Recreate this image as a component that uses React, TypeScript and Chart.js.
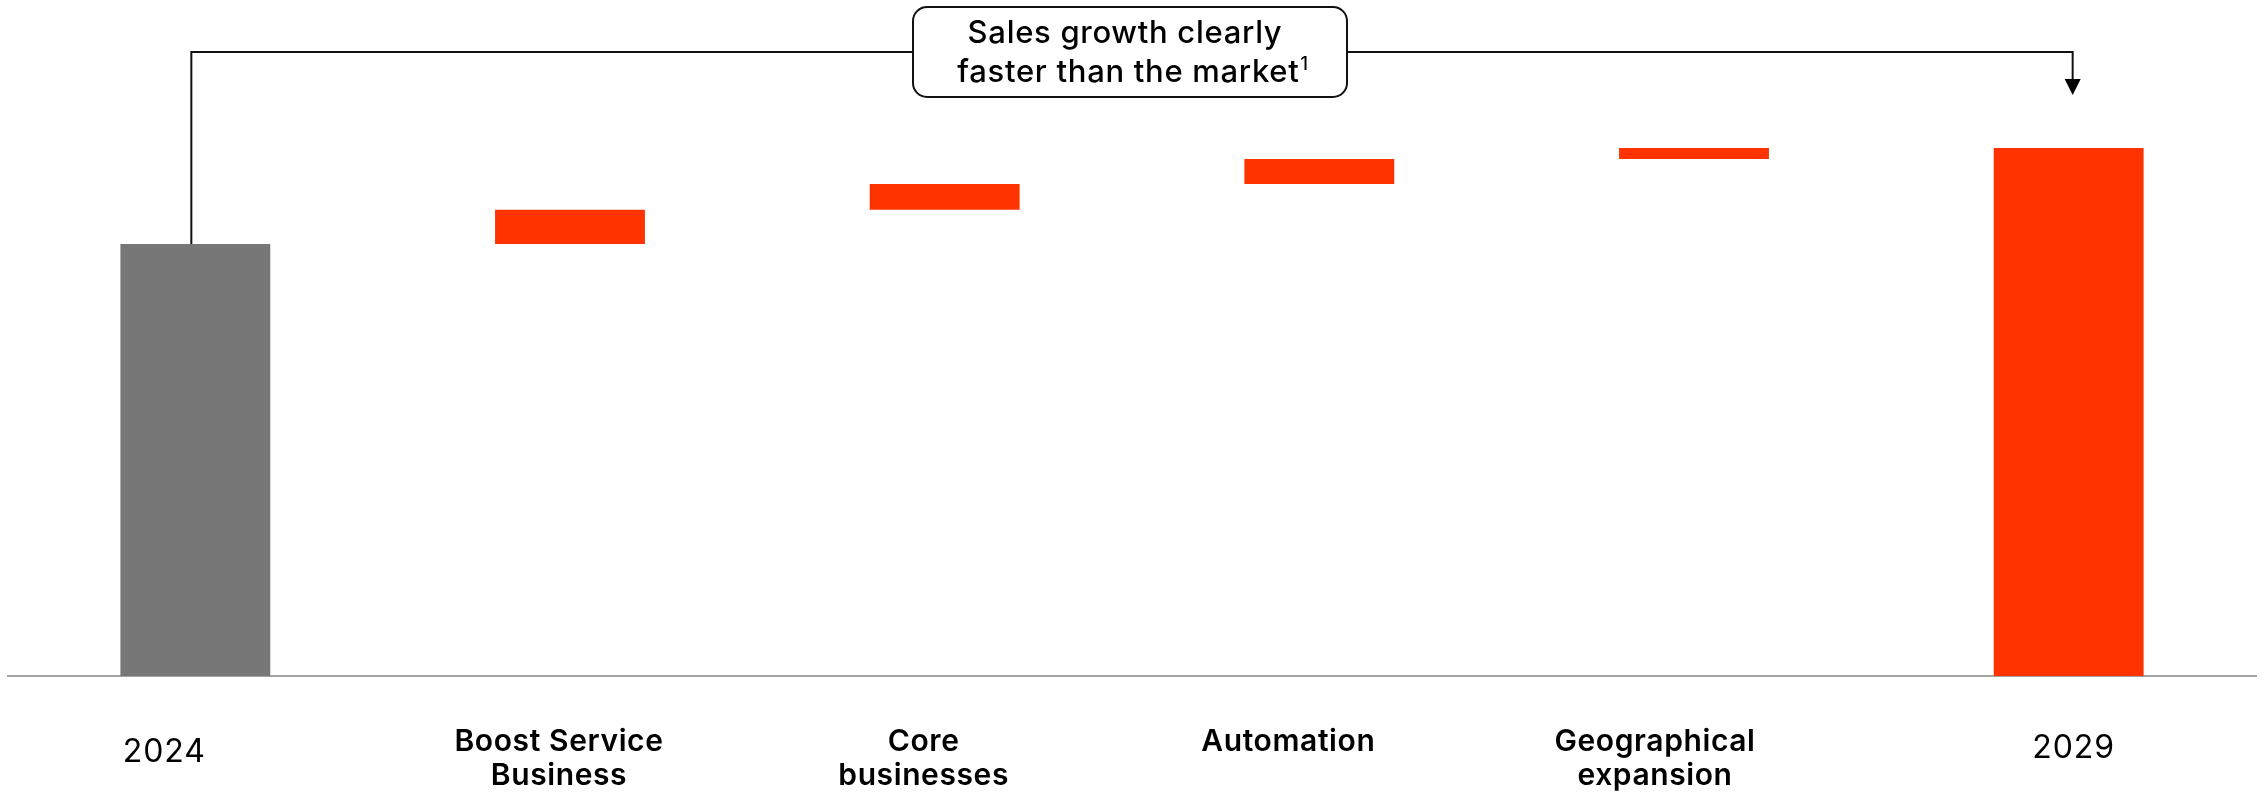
import React, { useEffect, useRef } from "react";
import { Chart, registerables } from "chart.js";

Chart.register(...registerables);

// ---- data ----
const categories: string[][] = [
  ["2024"],
  ["Boost Service", "Business"],
  ["Core", "businesses"],
  ["Automation"],
  ["Geographical", "expansion"],
  ["2029"],
];
const startValue = 100; // 2024 sales (index)
const increments = [7.9, 6.0, 5.8, 2.5]; // growth drivers
const endValue = 122.2; // 2029 sales (index)
const calloutLines = ["Sales growth clearly", "faster than the market"];
const calloutFootnote = "1";

const GREY = "#777777";
const ORANGE = "#FF3300";
const FONT = "Inter, 'Noto Sans', sans-serif";

function buildBars(): [number, number][] {
  const bars: [number, number][] = [[0, startValue]];
  let running = startValue;
  for (const inc of increments) {
    bars.push([running, running + inc]);
    running += inc;
  }
  bars.push([0, endValue]);
  return bars;
}

// label styling (horizontal nudge, first-line centre y)
const labelShift = [-31, -11, -21, -31, -39, 5];
const labelY = [752, 742, 742, 742, 742, 748];

const labelPlugin = {
  id: "categoryLabels",
  afterDraw(chart: any) {
    const { ctx, scales } = chart;
    const x = scales.x;
    ctx.save();
    ctx.fillStyle = "#000";
    ctx.textAlign = "center";
    ctx.textBaseline = "middle";
    categories.forEach((lines, i) => {
      const isYear = i === 0 || i === categories.length - 1;
      ctx.font = isYear ? `400 32px ${FONT}` : `600 30px ${FONT}`;
      (ctx as any).letterSpacing = isYear ? "1px" : "0.6px";
      const cx = x.getPixelForValue(i) + labelShift[i];
      lines.forEach((line, j) => {
        ctx.fillText(line, cx, labelY[i] + j * 34);
      });
    });
    ctx.restore();
  },
};

const bracketPlugin = {
  id: "bracket",
  afterDraw(chart: any) {
    const { ctx, scales } = chart;
    const x = scales.x;
    const y = scales.y;
    const leftX = x.getPixelForValue(0) - 4;
    const rightX = x.getPixelForValue(categories.length - 1) + 4;
    const barTop = y.getPixelForValue(startValue);
    const lineY = 52;
    const boxL = 913;
    const boxR = 1347;
    const boxT = 7;
    const boxB = 97;
    const tipY = 95;
    const headH = 16;
    const headW = 8;

    ctx.save();
    ctx.strokeStyle = "#111";
    ctx.lineWidth = 2;
    ctx.beginPath();
    ctx.moveTo(leftX, barTop);
    ctx.lineTo(leftX, lineY);
    ctx.lineTo(boxL, lineY);
    ctx.moveTo(boxR, lineY);
    ctx.lineTo(rightX, lineY);
    ctx.lineTo(rightX, tipY - headH + 1);
    ctx.stroke();

    ctx.fillStyle = "#000";
    ctx.beginPath();
    ctx.moveTo(rightX - headW, tipY - headH);
    ctx.lineTo(rightX + headW, tipY - headH);
    ctx.lineTo(rightX, tipY);
    ctx.closePath();
    ctx.fill();

    // rounded box
    ctx.fillStyle = "#fff";
    ctx.beginPath();
    (ctx as any).roundRect(boxL, boxT, boxR - boxL, boxB - boxT, 14);
    ctx.fill();
    ctx.stroke();

    // text
    ctx.fillStyle = "#000";
    ctx.textBaseline = "alphabetic";
    (ctx as any).letterSpacing = "0.7px";
    ctx.font = `500 31px ${FONT}`;
    ctx.textAlign = "center";
    ctx.fillText(calloutLines[0], 1125, 43);
    const w = ctx.measureText(calloutLines[1]).width;
    ctx.font = `500 18px ${FONT}`;
    const ws = ctx.measureText(calloutFootnote).width;
    const startX = 1133 - (w + ws + 1) / 2;
    ctx.textAlign = "left";
    ctx.font = `500 31px ${FONT}`;
    ctx.fillText(calloutLines[1], startX, 82);
    ctx.font = `500 18px ${FONT}`;
    ctx.fillText(calloutFootnote, startX + w + 1, 70);
    ctx.restore();
  },
};

export default function App() {
  const canvasRef = useRef<HTMLCanvasElement | null>(null);

  useEffect(() => {
    if (!canvasRef.current) return;
    const bars = buildBars();
    const colors = bars.map((_, i) => (i === 0 ? GREY : ORANGE));
    const chart = new Chart(canvasRef.current, {
      type: "bar",
      data: {
        labels: categories as any,
        datasets: [
          {
            data: bars as any,
            backgroundColor: colors,
            borderWidth: 0,
            barPercentage: 0.4,
            categoryPercentage: 1,
          },
        ],
      },
      options: {
        responsive: false,
        animation: false,
        devicePixelRatio: 1,
        layout: { padding: { left: 8, right: 9, top: 28, bottom: 0 } },
        plugins: {
          legend: { display: false },
          tooltip: { enabled: false },
        },
        scales: {
          x: {
            grid: { display: false, drawTicks: false },
            border: { display: true, color: "#a3a3a3", width: 2 },
            afterFit: (scale: any) => {
              scale.height = 116;
            },
            ticks: { display: false },
          },
          y: {
            display: false,
            min: 0,
            max: 150,
          },
        },
      },
      plugins: [bracketPlugin, labelPlugin],
    });
    return () => chart.destroy();
  }, []);

  return (
    <div style={{ position: "fixed", left: 0, top: 0, width: 2265, height: 792, background: "#fff" }}>
      <canvas ref={canvasRef} width={2265} height={792} style={{ display: "block" }} />
    </div>
  );
}
